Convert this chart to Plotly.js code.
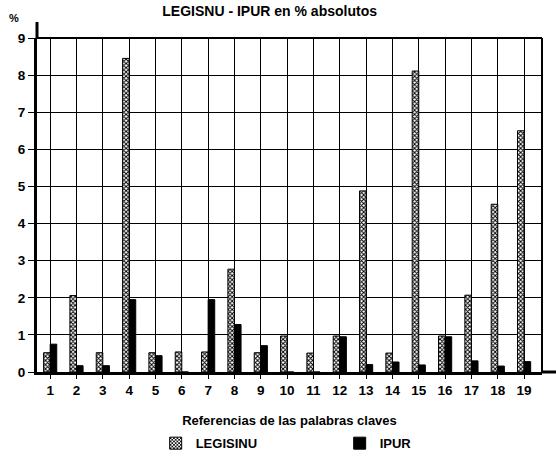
<!DOCTYPE html>
<html>
<head>
<meta charset="utf-8">
<script src="https://cdn.plot.ly/plotly-3.0.1.min.js"></script>
<style>html,body{margin:0;padding:0;background:#fff;}#chart{width:556px;height:457px;}</style>
</head>
<body>
<div id="chart"></div>
<script>
const categories = [1,2,3,4,5,6,7,8,9,10,11,12,13,14,15,16,17,18,19];
const legisinu = [0.52,2.06,0.52,8.45,0.52,0.54,0.54,2.77,0.52,0.97,0.51,0.97,4.88,0.51,8.11,0.97,2.07,4.52,6.5];
const ipur     = [0.75,0.17,0.17,1.95,0.44,0,1.95,1.28,0.71,0,0,0.95,0.2,0.27,0.19,0.95,0.3,0.16,0.28];
const yTicks = [0,1,2,3,4,5,6,7,8,9];

const F = 'Liberation Sans, Arial, Helvetica, sans-serif';

const traces = [
  {
    type: 'bar', name: 'LEGISINU', x: categories, y: legisinu,
    marker: {color: '#ffffff', line: {color: '#000', width: 1},
             pattern: {shape: 'x', size: 3, solidity: 0.55, fgcolor: '#000', bgcolor: '#fff'}}
  },
  {
    type: 'bar', name: 'IPUR', x: categories, y: ipur,
    marker: {color: '#000', line: {color: '#000', width: 1}}
  }
];

const layout = {
  width: 556, height: 457,
  margin: {l: 37, r: 14, t: 38, b: 85},
  paper_bgcolor: '#fff', plot_bgcolor: '#fff',
  barmode: 'group', bargap: 0.5, bargroupgap: 0,
  showlegend: true,
  font: {family: F, color: '#000', size: 12, weight: 'bold'},
  title: {text: 'LEGISNU - IPUR en % absolutos', x: 0.485, xanchor: 'center', y: 0.975, yanchor: 'middle',
          font: {family: F, size: 14, weight: 'bold', color: '#000'}},
  xaxis: {
    type: 'linear', range: [0.5, 19.68], tickvals: categories, ticktext: categories.map(String),
    showgrid: true, gridcolor: '#000', gridwidth: 1,
    showline: true, linecolor: '#000', linewidth: 3,
    ticks: 'outside', ticklen: 4, tickwidth: 1, tickcolor: '#000',
    tickfont: {family: F, size: 13.5, weight: 'bold'},
    zeroline: false, fixedrange: true, automargin: false,
    title: {text: 'Referencias de las palabras claves', standoff: 24, font: {family: F, size: 13, weight: 'bold'}}
  },
  yaxis: {
    range: [0, 9], tickvals: yTicks,
    showgrid: true, gridcolor: '#000', gridwidth: 1,
    showline: true, linecolor: '#000', linewidth: 3,
    ticks: 'outside', ticklen: 6, tickwidth: 1, tickcolor: '#000',
    tickfont: {family: F, size: 13.5, weight: 'bold'},
    zeroline: false, fixedrange: true, automargin: false
  },
  legend: {
    orientation: 'h', x: 0.235, xanchor: 'left', yref: 'container', y: 0.063, yanchor: 'top',
    entrywidth: 139, entrywidthmode: 'pixels',
    font: {family: F, size: 13, weight: 'bold'}, traceorder: 'normal'
  },
  shapes: [
    {type: 'line', xref: 'paper', yref: 'paper', x0: 0, x1: 1, y0: 1, y1: 1, line: {color: '#000', width: 2}},
    {type: 'line', xref: 'paper', yref: 'paper', x0: 1, x1: 1, y0: 0, y1: 1, line: {color: '#000', width: 2}},
    {type: 'line', xref: 'paper', yref: 'paper', x0: 0, x1: 0, y0: 1, y1: 1.048, line: {color: '#000', width: 3}},
    {type: 'line', xref: 'paper', yref: 'paper', x0: 1, x1: 1.028, y0: 0, y1: 0, line: {color: '#000', width: 3}}
  ],
  annotations: [
    {text: '%', xref: 'paper', yref: 'paper', x: -0.045, y: 1.06, xanchor: 'center', yanchor: 'middle',
     showarrow: false, font: {family: F, size: 11, weight: 'bold'}}
  ]
};

Plotly.newPlot('chart', traces, layout, {displayModeBar: false, staticPlot: true});
</script>
</body>
</html>
